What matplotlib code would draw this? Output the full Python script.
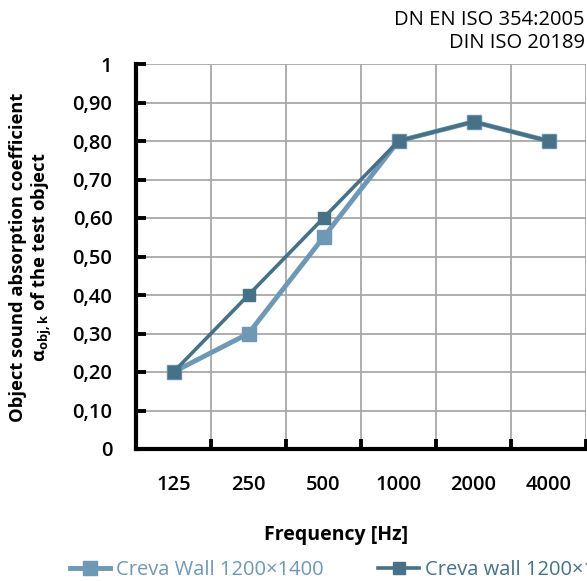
import matplotlib.pyplot as plt
import numpy as np

plt.rcParams['font.family'] = ['Open Sans', 'DejaVu Sans']
plt.rcParams['mathtext.fontset'] = 'custom'
plt.rcParams['mathtext.rm'] = 'Open Sans'
plt.rcParams['mathtext.bf'] = 'Open Sans:bold'

# Data
freqs = ['125', '250', '500', '1000', '2000', '4000']
wall_1400 = [0.20, 0.30, 0.55, 0.80, 0.85, 0.80]
wall_1800 = [0.20, 0.40, 0.60, 0.80, 0.85, 0.80]
labels = ['Creva Wall 1200\u00d71400', 'Creva wall 1200\u00d71800']
y_ticks = [0, 0.1, 0.2, 0.3, 0.4, 0.5, 0.6, 0.7, 0.8, 0.9, 1.0]
y_tick_lab = ['0', '0,10', '0,20', '0,30', '0,40', '0,50', '0,60', '0,70', '0,80', '0,90', '1']

light = '#6f98b4'
dark = '#467186'

W, H = 587, 581
fig = plt.figure(figsize=(W / 100, H / 100), dpi=100)
ax = fig.add_axes([136 / W, (H - 449) / H, 450 / W, (449 - 64) / H])

x = np.arange(len(freqs))
ax.plot(x, wall_1400, color=light, lw=3.5, marker='s', ms=10, label=labels[0], zorder=3)
ax.plot(x, wall_1800, color=dark, lw=2.6, marker='s', ms=8, label=labels[1], zorder=4)

ax.set_xlim(-0.5, len(freqs) - 0.5)
ax.set_ylim(0, 1)

# Achsen
ax.set_xticks(x)
ax.set_xticklabels(freqs)
ax.set_xticks(np.arange(len(freqs)) + 0.5, minor=True)
ax.set_yticks(y_ticks)
ax.set_yticklabels(y_tick_lab)
ax.tick_params(axis='x', which='major', length=0, pad=19, labelsize=14.5)
ax.tick_params(axis='x', which='minor', direction='in', length=7, width=2.8, color='black')
ax.tick_params(axis='y', direction='in', length=7, width=2.8, color='black', pad=17, labelsize=14.5)
for t in ax.get_xticklabels() + ax.get_yticklabels():
    t.set_fontweight('semibold')

# Grid
ax.grid(True, which='minor', axis='x', color='#a8a8a8', lw=1.3)
ax.grid(True, which='major', axis='y', color='#a8a8a8', lw=1.3)
ax.grid(False, which='major', axis='x')
ax.set_axisbelow(True)

for s in ['top', 'right']:
    ax.spines[s].set_visible(False)
for s in ['left', 'bottom']:
    ax.spines[s].set_linewidth(3)
    ax.spines[s].set_zorder(5)

# Labels
fig.text(336 / W, 1 - 535 / H, 'Frequency [Hz]', ha='center', va='center',
         fontsize=14, fontweight='bold')
fig.text(18 / W, 1 - 257 / H, 'Object sound absorption coefficient', rotation=90,
         ha='center', va='center', fontsize=13.2, fontweight='bold')
fig.text(42 / W, 1 - 257 / H, r'$\mathbf{\alpha}_{\mathbf{obj,k}}$ of the test object', rotation=90,
         ha='center', va='center', fontsize=13.2, fontweight='bold')

fig.text(585 / W, 1 - 20 / H, 'DN EN ISO 354:2005', ha='right', va='center', fontsize=14.5)
fig.text(585 / W, 1 - 43 / H, 'DIN ISO 20189', ha='right', va='center', fontsize=14.5)

fig.legend(loc='center left', bbox_to_anchor=(62 / W, 1 - 570 / H), ncol=2, frameon=False,
           fontsize=14.5, handlelength=2.0, handletextpad=0.3, columnspacing=2.7,
           labelcolor='linecolor', borderaxespad=0)

plt.savefig('out.png', dpi=100)
